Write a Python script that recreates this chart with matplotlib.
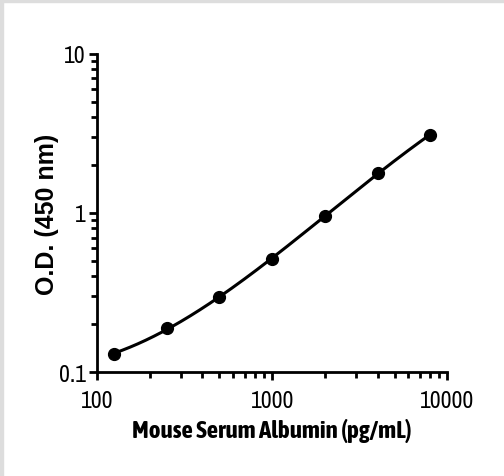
import numpy as np
import matplotlib
matplotlib.use("Agg")
import matplotlib.pyplot as plt
from matplotlib.patches import Rectangle
from matplotlib import font_manager as fm

plt.rcParams['font.family'] = ['Liberation Sans', 'DejaVu Sans']

# standard curve readings
conc = [125, 250, 500, 1000, 2000, 4000, 8000]
od = [0.130, 0.189, 0.296, 0.510, 0.957, 1.79, 3.09]
x_ticks = [100, 1000, 10000]
y_ticks = [0.1, 1, 10]

installed = {f.name for f in fm.fontManager.ttflist}
narrow = [f for f in ['Liberation Sans Narrow', 'Arial Narrow', 'Archivo Narrow'] if f in installed]
narrow_bold = [f for f in ['Liberation Sans Narrow', 'Arial Narrow', 'Asap Condensed'] if f in installed]
narrow = (narrow or ['Liberation Sans'])[:1]
narrow_bold = (narrow_bold or ['Liberation Sans'])[:1]

fig = plt.figure(figsize=(5.04, 4.77), dpi=100)
ax = fig.add_axes([0.1925, 0.218, 0.695, 0.667])

# smooth fit in log-log space
lx = np.log10(conc)
ly = np.log10(od)
coef = np.polyfit(lx, ly, 3)
xs = np.linspace(lx[0], lx[-1], 200)
ax.plot(10 ** xs, 10 ** np.polyval(coef, xs), color='black', lw=2.2, zorder=2)
ax.plot(conc, od, 'o', color='black', ms=8.5, zorder=3)

ax.set_xscale('log')
ax.set_yscale('log')
ax.set_xlim(100, 10000)
ax.set_ylim(0.1, 10)
ax.set_xticks(x_ticks)
ax.set_xticklabels([str(t) for t in x_ticks], family=narrow, fontsize=17)
ax.set_yticks(y_ticks)
ax.set_yticklabels(['0.1', '1', '10'], family=narrow, fontsize=17)

for s in ['top', 'right']:
    ax.spines[s].set_visible(False)
for s in ['left', 'bottom']:
    ax.spines[s].set_linewidth(2)
ax.tick_params(which='major', length=6, width=2)
ax.tick_params(which='minor', length=4, width=2)
ax.tick_params(axis='y', pad=2)
ax.tick_params(axis='x', pad=7)

ax.set_xlabel('Mouse Serum Albumin (pg/mL)', family=narrow_bold, fontsize=18,
              fontweight='bold', labelpad=5)
ax.set_ylabel('O.D. (450 nm)', fontsize=18, fontweight='bold', labelpad=0)

# light frame at top and left edges
fig.patches.append(Rectangle((0, 0), 3 / 504, 1, transform=fig.transFigure,
                             color='#dddddd', zorder=0))
fig.patches.append(Rectangle((0, 1 - 3 / 477), 1, 3 / 477, transform=fig.transFigure,
                             color='#dddddd', zorder=0))

fig.savefig('out.png', dpi=100)
